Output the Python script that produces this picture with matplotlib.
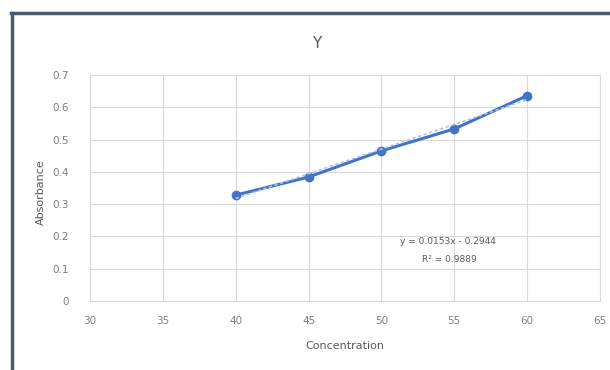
import matplotlib
matplotlib.use("Agg")
import matplotlib.pyplot as plt
import numpy as np

concentration = [40, 45, 50, 55, 60]
absorbance = [0.328, 0.384, 0.465, 0.533, 0.636]
slope = 0.0153
intercept = -0.2944
r2 = 0.9889
x_ticks = [30, 35, 40, 45, 50, 55, 60, 65]
y_ticks = [0, 0.1, 0.2, 0.3, 0.4, 0.5, 0.6, 0.7]
y_tick_labels = ["0", "0.1", "0.2", "0.3", "0.4", "0.5", "0.6", "0.7"]

W, H = 610, 370
fig = plt.figure(figsize=(W / 100, H / 100), dpi=100)
fig.patch.set_facecolor("white")

# outer chart frame (top and left edges visible)
fig.add_artist(plt.Line2D([11 / W, 1.0], [1 - 13 / H, 1 - 13 / H], color="#4a5a72", lw=2.5,
                          transform=fig.transFigure))
fig.add_artist(plt.Line2D([12 / W, 12 / W], [0, 1 - 13 / H], color="#4a5a72", lw=2.5,
                          transform=fig.transFigure))

left, right, top, bottom = 90, 600, 75, 301
ax = fig.add_axes([left / W, 1 - bottom / H, (right - left) / W, (bottom - top) / H])
ax.set_xlim(30, 65)
ax.set_ylim(0, 0.7)
ax.set_xticks(x_ticks)
ax.set_yticks(y_ticks)
ax.set_yticklabels(y_tick_labels)
ax.grid(True, color="#d9d9d9", lw=0.8)
ax.set_axisbelow(True)
for s in ax.spines.values():
    s.set_color("#d9d9d9")
    s.set_linewidth(0.8)
ax.tick_params(length=0, colors="#7f7f7f", labelsize=7.5)
ax.tick_params(axis="y", pad=15)
ax.tick_params(axis="x", pad=11)

xs = np.array([concentration[0], concentration[-1]])
ax.plot(concentration, absorbance, color="#4472c4", lw=2.2, marker="o", ms=6, zorder=3)
ax.plot(xs, slope * xs + intercept, color="#a9c6ea", lw=1.2, ls=(0, (2, 1.5)), zorder=4)

fig.text(448 / W, 1 - 241 / H, f"y = {slope}x - {abs(intercept)}", ha="center", va="center",
         fontsize=6.5, color="#595959")
fig.text(449 / W, 1 - 260 / H, f"R² = {r2}", ha="center", va="center",
         fontsize=6.5, color="#595959")

fig.text(317 / W, 1 - 44 / H, "Y", ha="center", va="center", fontsize=11, color="#595959")
fig.text(345 / W, 1 - 346 / H, "Concentration", ha="center", va="center", fontsize=8, color="#595959")
fig.text(41 / W, 1 - 192 / H, "Absorbance", ha="center", va="center", rotation=90,
         fontsize=8, color="#595959")

fig.savefig("out.png", dpi=100, facecolor="white")
